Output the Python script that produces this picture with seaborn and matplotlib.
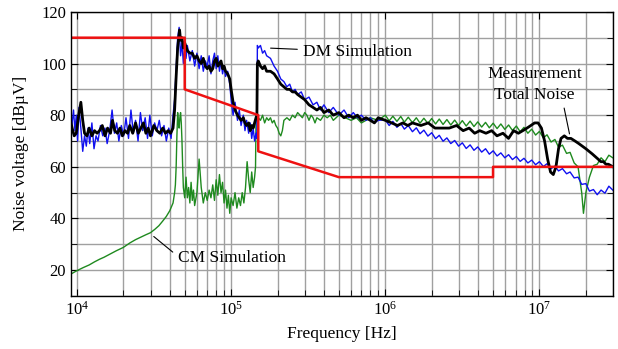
import numpy as np
import matplotlib
matplotlib.use("Agg")
import matplotlib.pyplot as plt
import matplotlib.ticker as mticker
import seaborn as sns
import pandas as pd

# ---- data (frequencies in kHz, levels in dBuV) ----
limit_f = [9.15, 50, 50, 150, 150, 500, 5000, 5000, 30000]
limit_v = [110, 110, 90, 80, 66, 56, 56, 60, 60]

meas_f = [9.15, 9.4, 9.6, 9.9, 10.2, 10.6, 10.9, 11.2, 11.6, 12, 12.5, 13, 13.5, 14,
          14.6, 15.2, 15.8, 16.5, 17, 17.6, 18.3, 19, 19.7, 20.5, 21.3, 22, 23, 24,
          25, 26, 27, 28, 29, 30, 31.5, 33, 34.5, 36, 37.5, 39, 40.5, 42, 43, 44,
          45, 46.3, 47, 48, 49, 50, 52, 54, 56, 58, 60, 62, 64, 66, 68, 70, 72, 74,
          76, 78, 80, 82, 84, 86, 88, 90, 92, 95, 98, 100, 103, 106, 110, 113, 116,
          120, 123, 126, 130, 133, 136, 139, 142, 145, 147, 148, 150, 155, 160, 165,
          170, 180, 190, 200, 210, 220, 230, 240, 250, 260, 270, 285, 300, 320, 340,
          360, 380, 400, 430, 460, 500, 540, 580, 620, 660, 700, 750, 800, 850, 900,
          1000, 1100, 1200, 1300, 1400, 1500, 1700, 1900, 2100, 2300, 2600, 2900,
          3200, 3500, 3800, 4100, 4500, 4900, 5300, 5800, 6300, 6800, 7300, 7800,
          8300, 8800, 9300, 9800, 10300, 10800, 11300, 11800, 12300, 12800, 13300,
          13800, 14500, 15200, 16000, 17000, 18000, 19000, 20000, 21000, 22000,
          23000, 24000, 25000, 26000, 27000, 28000, 30000]
meas_v = [77, 74, 72, 73, 79, 85, 78, 73, 72, 75, 72, 74, 73, 74,
          76, 72, 75, 73, 78, 74, 73, 75, 72, 74, 73, 76, 73, 77,
          73, 75, 77, 73, 75, 72, 76, 74, 73, 75, 73, 74, 73, 75, 82, 95,
          106, 113, 109, 110, 106, 108, 105, 104, 104, 102, 103, 101, 100, 102, 99, 98, 99, 97,
          98, 101, 102, 99, 100, 101, 98, 99, 97, 96, 94, 90, 85, 82, 80, 79, 78,
          79, 77, 76, 77, 74, 76, 75, 77, 79, 80, 100, 101, 99, 98, 99,
          97, 97, 96, 94, 92, 91, 90, 90, 89, 89, 88, 87, 86, 84, 83,
          82, 83, 81, 82, 80, 81, 79, 80, 79, 80, 78, 79, 78, 77, 79,
          78, 77, 76, 77, 76, 77, 76, 77, 75, 75, 75, 76,
          74, 75, 73, 74, 73, 74, 72, 73, 71, 74, 73, 74,
          75, 76, 77, 77, 75, 70, 63, 58, 57, 60, 67,
          71, 72, 71, 71, 70, 69, 68, 67, 66, 65,
          64, 63, 62, 62, 61, 61, 60]

dm_f = [9.15, 9.3, 9.5, 9.7, 9.9, 10.1, 10.3, 10.6, 10.9, 11.2, 11.5, 11.8, 12.1,
        12.5, 12.9, 13.3, 13.7, 14.2, 14.7, 15.2, 15.7, 16.3, 16.9, 17.5, 18.1,
        18.7, 19.4, 20.1, 20.8, 21.6, 22.4, 23.2, 24, 24.9, 25.8, 26.7, 27.7, 28.7,
        29.7, 30.8, 31.9, 33, 34.2, 35.4, 36.7, 38, 39.4, 40.8, 42, 43, 44, 45, 46,
        47, 48, 49, 50, 51, 52, 54, 56, 58, 60, 62, 64, 66, 68, 70, 72, 74, 76, 78,
        80, 82, 84, 86, 88, 90, 92, 95, 98, 100, 103, 106, 110, 113, 116, 120, 123,
        126, 130, 133, 136, 139, 142, 145, 147, 148, 150, 155, 160, 165, 170, 180,
        190, 200, 210, 220, 230, 240, 250, 260, 270, 285, 300, 320, 340, 360, 380,
        400, 430, 460, 500, 540, 580, 620, 660, 700, 750, 800, 850, 900,
        1000, 1060, 1120, 1190, 1260, 1330, 1410, 1500, 1590, 1680, 1780, 1890,
        2000, 2120, 2240, 2370, 2510, 2660, 2820, 2990, 3160, 3350, 3550, 3760,
        3980, 4220, 4470, 4730, 5010, 5310, 5620, 5960, 6310, 6680, 7080, 7500,
        7940, 8410, 8910, 9440, 10000, 10600, 11200, 11900, 12600, 13300, 14100,
        15000, 15800, 16800, 17800, 18800, 20000, 21100, 22400, 23700, 25100,
        26600, 28200, 29900]
dm_v = [73, 77, 82, 74, 80, 70, 83, 75, 66, 72, 68, 75, 69,
        77, 67, 72, 70, 76, 72, 75, 69, 74, 82, 73, 77,
        70, 76, 72, 79, 71, 82, 73, 78, 70, 81, 74, 79, 71,
        80, 72, 77, 74, 78, 72, 76, 70, 75, 71, 80, 86, 98, 110, 114,
        103, 108, 100, 106, 102, 107, 101, 105, 99, 104, 98, 103, 97, 101, 99, 103, 96, 101, 104,
        98, 103, 97, 101, 96, 99, 95, 97, 92, 86, 80, 85, 78, 82, 76, 80, 74,
        78, 73, 77, 71, 75, 70, 73, 71, 107, 106, 107, 104, 105, 103, 102,
        99, 97, 94, 93, 91, 92, 89, 90, 88, 89, 86, 87, 84, 85, 82,
        84, 81, 83, 80, 82, 79, 81, 79, 80, 78, 79, 77, 78,
        78.2, 76.0, 77.6, 75.3, 76.8, 74.6, 76.0, 73.6, 75.1, 72.8, 74.2, 71.9,
        73.2, 70.9, 72.2, 69.9, 71.2, 69.0, 70.2, 68.0, 69.3, 67.1, 68.5, 66.4,
        67.7, 65.7, 67.0, 64.9, 66.2, 64.2, 65.4, 63.5, 64.7, 62.8, 64.0, 62.1,
        63.3, 61.5, 62.6, 60.8, 62.0, 60.1, 61.2, 59.3, 60.3, 58.4, 59.3,
        57.3, 58.0, 55.7, 56.0, 53.2, 53.5, 50.6, 51.2, 49.2, 51.0,
        49.8, 52.5, 51.0]

cm_f = [9.15, 10, 11, 12, 13, 14, 15, 16, 17, 18, 20, 22, 24, 26, 28, 30, 32, 34,
        36, 38, 40, 41, 42, 43, 43.5, 44, 44.5, 45, 45.5, 46, 46.5, 47, 47.5, 48,
        48.5, 49, 50, 51, 52, 53, 54, 55, 56, 57, 58, 60, 62, 64, 66, 68, 70, 72,
        74, 76, 78, 80, 82, 84, 86, 88, 90, 92, 94, 96, 98, 100, 103, 106, 109,
        112, 115, 118, 121, 124, 127, 130, 133, 136, 139, 142, 144, 145, 147, 150,
        155, 160, 165, 170, 175, 180, 185, 190, 195, 200, 205, 210, 215, 220, 230,
        240, 250, 260, 270, 280, 290, 300, 310, 320, 330, 340, 350, 360, 380, 400,
        420, 440, 460, 480, 500, 550, 600, 650, 700, 750, 800, 900,
        1000, 1060, 1120, 1190, 1260, 1330, 1410, 1500, 1590, 1680, 1780, 1890,
        2000, 2120, 2240, 2370, 2510, 2660, 2820, 2990, 3160, 3350, 3550, 3760,
        3980, 4220, 4470, 4730, 5010, 5310, 5620, 5960, 6310, 6680, 7080, 7500,
        7940, 8410, 8910, 9440, 10000, 10600, 11200, 11900, 12600, 13300, 14100,
        15000, 15800, 16800, 17800, 18800, 19300, 20000, 21100, 22400, 23700,
        25100, 26600, 28200, 29900]
cm_v = [18.5, 19.8, 21, 22, 23.2, 24.2, 25, 25.9, 26.7, 27.5, 28.8, 30.5, 31.8, 32.8, 33.7, 34.5, 35.8, 37.2,
        39, 40.8, 43, 44.5, 46, 50, 53, 60, 72, 81, 77, 75, 79, 81, 77, 70,
        60, 52, 48, 56, 48, 52, 46, 54, 47, 51, 45, 50, 63, 52, 46, 50, 47, 51,
        48, 53, 47, 55, 49, 57, 50, 54, 46, 51, 44, 49, 42, 48, 45, 50, 44,
        48, 45, 50, 46, 52, 62, 55, 50, 58, 52, 56, 60, 78, 80, 79,
        78, 80, 77, 79, 78, 79, 77, 78, 76, 75, 73, 72, 74, 78, 79,
        78, 80, 79, 81, 80, 79, 81, 80, 78, 80, 79, 77, 79, 78, 80,
        79, 80, 78, 79, 80, 79, 78, 79, 77, 78, 79, 78,
        80.0, 77.8, 79.6, 77.6, 79.5, 77.3, 79.2, 77.1, 79.0, 76.9, 78.8, 76.8,
        78.7, 76.6, 78.5, 76.4, 78.3, 76.2, 78.1, 76.0, 77.9, 75.8, 77.7, 75.6,
        77.4, 75.4, 77.2, 75.1, 76.9, 74.8, 76.6, 74.5, 76.2, 74.1, 75.8, 73.6,
        75.3, 73.0, 74.6, 72.3, 73.7, 71.2, 72.4, 69.6, 70.6, 67.6, 68.4,
        65.2, 65.6, 61.5, 60.0, 50.0, 42.0, 50.0, 56.0, 60.5, 61.0,
        63.5, 62.0, 64.5, 63.5]


def to_df(f_khz, v):
    return pd.DataFrame({"f": np.array(f_khz) * 1e3, "v": v})


plt.rcParams["font.family"] = ["Liberation Serif", "DejaVu Serif"]
plt.rcParams["mathtext.fontset"] = "stix"

fig = plt.figure(figsize=(6.18, 3.49), dpi=100)
ax = fig.add_axes([0.1149, 0.152, 0.877, 0.814])

sns.lineplot(data=to_df(cm_f, cm_v), x="f", y="v", color="#1f8a1f", lw=1.0,
             estimator=None, sort=False, ax=ax)
sns.lineplot(data=to_df(dm_f, dm_v), x="f", y="v", color="#1010f0", lw=1.0,
             estimator=None, sort=False, ax=ax)
sns.lineplot(data=to_df(meas_f, meas_v), x="f", y="v", color="black", lw=2.0,
             estimator=None, sort=False, ax=ax)
sns.lineplot(data=to_df(limit_f, limit_v), x="f", y="v", color="#ee1111", lw=1.8,
             estimator=None, sort=False, ax=ax)

ax.set_xscale("log")
ax.set_xlim(9150, 3.0e7)
ax.set_ylim(10, 120)
ax.xaxis.set_major_locator(mticker.LogLocator(base=10))
ax.xaxis.set_minor_locator(mticker.LogLocator(base=10, subs=np.arange(2, 10)))
ax.xaxis.set_minor_formatter(mticker.NullFormatter())
ax.yaxis.set_major_locator(mticker.MultipleLocator(20))
ax.yaxis.set_minor_locator(mticker.MultipleLocator(10))

ax.grid(True, which="both", color="#a0a0a0", lw=1.0)
ax.set_axisbelow(True)
ax.tick_params(which="both", direction="in", right=True, top=True, labelsize=12)
ax.tick_params(which="minor", top=False, length=4)
ax.tick_params(which="major", length=5)
for s in ax.spines.values():
    s.set_linewidth(1.0)

ax.set_xlabel("Frequency [Hz]", fontsize=12.5, labelpad=5)
ax.set_ylabel("Noise voltage [dBµV]", fontsize=12.5, labelpad=9)

ax.annotate("DM Simulation", xy=(1.73e5, 106), xytext=(2.92e5, 104.5),
            fontsize=12.5, va="center", ha="left",
            arrowprops=dict(arrowstyle="-", color="black", lw=0.8))
ax.annotate("Measurement\nTotal Noise", xy=(1.58e7, 71.7), xytext=(9.3e6, 92),
            fontsize=12.5, va="center", ha="center", linespacing=1.4,
            arrowprops=dict(arrowstyle="-", color="black", lw=0.8,
                            relpos=(0.8, 0.0)))
ax.annotate("CM Simulation", xy=(3.05e4, 33.7), xytext=(4.5e4, 24.8),
            fontsize=12.5, va="center", ha="left",
            arrowprops=dict(arrowstyle="-", color="black", lw=0.8,
                            relpos=(0.0, 0.6)))

fig.savefig("out.png", dpi=100)
